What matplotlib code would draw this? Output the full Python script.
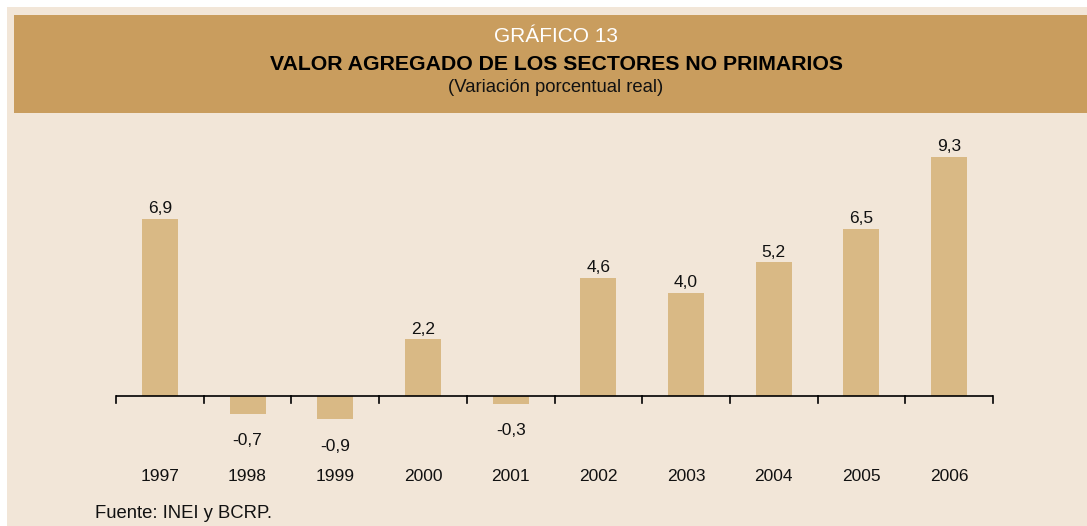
import matplotlib
matplotlib.use("Agg")
import matplotlib.pyplot as plt
from matplotlib.patches import Rectangle

years = ["1997", "1998", "1999", "2000", "2001", "2002", "2003", "2004", "2005", "2006"]
values = [6.9, -0.7, -0.9, 2.2, -0.3, 4.6, 4.0, 5.2, 6.5, 9.3]
labels = ["6,9", "-0,7", "-0,9", "2,2", "-0,3", "4,6", "4,0", "5,2", "6,5", "9,3"]

W, H = 1087, 526
plt.rcParams['font.family'] = ['Liberation Sans', 'DejaVu Sans']

BG = "#f2e6d8"
BAND = "#c99d5e"
BAR = "#d9b985"

fig = plt.figure(figsize=(W / 100, H / 100), dpi=100)
fig.patch.set_facecolor("white")

def fx(x):
    return x / W

def fy(y):
    return 1 - y / H

# outer beige area
fig.patches.append(Rectangle((fx(7), 0), 1 - fx(7), fy(7), transform=fig.transFigure,
                             facecolor=BG, edgecolor="none", zorder=-3))
# title band
fig.patches.append(Rectangle((fx(14), fy(113)), 1 - fx(14), fy(15) - fy(113),
                             transform=fig.transFigure, facecolor=BAND, edgecolor="none", zorder=-2))

fig.text(fx(556), fy(37), "GRÁFICO 13", color="white", fontsize=15, ha="center", va="center")
fig.text(fx(556), fy(65), "VALOR AGREGADO DE LOS SECTORES NO PRIMARIOS", color="black",
         fontsize=15.3, fontweight="bold", ha="center", va="center")
fig.text(fx(556), fy(88), "(Variación porcentual real)", color="#111111", fontsize=13.3,
         ha="center", va="center")
fig.text(fx(95), fy(513), "Fuente: INEI y BCRP.", color="#111111", fontsize=13.3,
         ha="left", va="center")

# axes: x from 116 to 993 px, baseline at y=396, 25.7 px per unit
x0, x1 = 116, 993
base = 396
scale = 25.7
ymin, ymax = -3.0, 10.0
top_px = base - ymax * scale
bot_px = base - ymin * scale
ax = fig.add_axes([fx(x0), fy(bot_px), fx(x1) - fx(x0), fy(top_px) - fy(bot_px)])
ax.set_facecolor("none")
ax.set_xlim(-0.5, len(years) - 0.5)
ax.set_ylim(ymin, ymax)

xs = list(range(len(years)))
ax.bar(xs, values, width=0.41, color=BAR, edgecolor="none", zorder=2)
ax.axhline(0, color="black", lw=1.2, zorder=3)

for x, v, lab in zip(xs, values, labels):
    if v >= 0:
        ax.annotate(lab, (x, v), xytext=(0, 2), textcoords="offset points",
                    ha="center", va="bottom", fontsize=12.5, color="#111111")
    else:
        ax.annotate(lab, (x, v), xytext=(0, -14), textcoords="offset points",
                    ha="center", va="top", fontsize=12.5, color="#111111")

# boundary ticks
for b in range(len(years) + 1):
    ax.plot([b - 0.5, b - 0.5], [0, -7 / scale], color="black", lw=1.2, zorder=3,
            clip_on=False)

for x, y in zip(xs, years):
    ax.text(x, -(476 - base) / scale, y, ha="center", va="center", fontsize=12.5, color="#111111")

for s in ax.spines.values():
    s.set_visible(False)
ax.set_xticks([])
ax.set_yticks([])

fig.savefig("out.png", dpi=100, facecolor=fig.get_facecolor())
